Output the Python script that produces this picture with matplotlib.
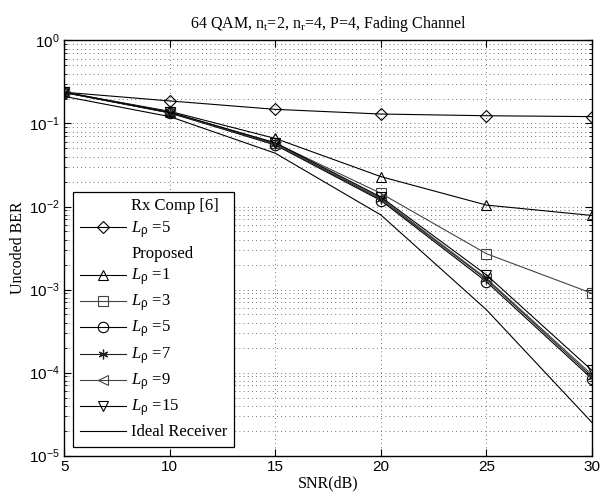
import matplotlib
matplotlib.use("Agg")
import matplotlib.pyplot as plt
from matplotlib.lines import Line2D
from matplotlib.ticker import LogLocator, NullFormatter

plt.rcParams['mathtext.fontset'] = 'custom'
plt.rcParams['mathtext.rm'] = 'Liberation Serif'
plt.rcParams['mathtext.it'] = 'Liberation Serif:italic'
plt.rcParams['mathtext.sf'] = 'Liberation Sans'

snr = [5, 10, 15, 20, 25, 30]
rx_comp_L5 = [0.238, 0.187, 0.148, 0.130, 0.124, 0.121]
prop_L1 = [0.238, 0.140, 0.066, 0.0229, 0.0104, 0.0078]
prop_L3 = [0.238, 0.137, 0.058, 0.0144, 0.0027, 0.0009]
prop_L5 = [0.236, 0.134, 0.055, 0.0118, 0.00124, 0.000084]
prop_L7 = [0.236, 0.135, 0.0565, 0.0122, 0.00132, 0.000089]
prop_L9 = [0.237, 0.135, 0.057, 0.0126, 0.00136, 0.000094]
prop_L15 = [0.238, 0.136, 0.0585, 0.0130, 0.0015, 0.000106]
ideal = [0.212, 0.121, 0.0438, 0.0079, 0.00057, 0.000025]

title = r"64 QAM, n$_\mathregular{t}$=2, n$_\mathregular{r}$=4, P=4, Fading Channel"
xlabel = "SNR(dB)"
ylabel = "Uncoded BER"

fig = plt.figure(figsize=(6.01, 4.98), dpi=100)
ax = fig.add_axes([0.107, 0.0853, 0.878, 0.8334])

serif = 'Liberation Serif'
lw = 0.8
ms = 7.5
common = dict(linewidth=lw, markersize=ms, markerfacecolor='none', markeredgewidth=0.8)

h_rx, = ax.plot(snr, rx_comp_L5, color='black', marker='D', markersize=6.5, linewidth=lw,
                markerfacecolor='none', markeredgewidth=0.8)
h1, = ax.plot(snr, prop_L1, color='black', marker='^', **common)
h3, = ax.plot(snr, prop_L3, color='#444444', marker='s', linewidth=lw, markersize=6.5,
              markerfacecolor='none', markeredgewidth=0.8)
h5, = ax.plot(snr, prop_L5, color='black', marker='o', **common)
h7, = ax.plot(snr, prop_L7, color='#222222', marker=(6, 2, 0), linewidth=lw, markersize=7,
              markerfacecolor='none', markeredgewidth=0.9)
h9, = ax.plot(snr, prop_L9, color='#444444', marker='<', **common)
h15, = ax.plot(snr, prop_L15, color='black', marker='v', **common)
hid, = ax.plot(snr, ideal, color='black', linewidth=lw)

ax.set_yscale('log')
ax.set_xlim(5, 30)
ax.set_ylim(1e-5, 1)
ax.set_xticks([5, 10, 15, 20, 25, 30])
ax.yaxis.set_major_locator(LogLocator(base=10, numticks=10))
ax.yaxis.set_minor_locator(LogLocator(base=10, subs=range(2, 10), numticks=20))
ax.yaxis.set_minor_formatter(NullFormatter())

grid_style = dict(linestyle=(0, (1, 4)), color='#444444', linewidth=0.6)
ax.grid(True, which='major', **grid_style)
ax.grid(True, which='minor', axis='y', **grid_style)
ax.set_axisbelow(True)

ax.tick_params(which='both', direction='in', top=True, right=True,
               labelsize=11, labelfontfamily='Liberation Sans')
ax.tick_params(which='major', length=5)
ax.tick_params(which='minor', length=2.5)
for s in ax.spines.values():
    s.set_linewidth(1.0)

ax.set_title(title, fontfamily=serif, fontsize=11.5, pad=9)
ax.set_xlabel(xlabel, fontfamily=serif, fontsize=11.5, labelpad=1)
ax.set_ylabel(ylabel, fontfamily=serif, fontsize=11.5, labelpad=2)

blank = Line2D([], [], linestyle='none')
handles = [blank, h_rx, blank, h1, h3, h5, h7, h9, h15, hid]
labels = ["Rx Comp [6]",
          r"$L_{\mathsf{\rho}}$ =5",
          "Proposed",
          r"$L_{\mathsf{\rho}}$ =1",
          r"$L_{\mathsf{\rho}}$ =3",
          r"$L_{\mathsf{\rho}}$ =5",
          r"$L_{\mathsf{\rho}}$ =7",
          r"$L_{\mathsf{\rho}}$ =9",
          r"$L_{\mathsf{\rho}}$ =15",
          "Ideal Receiver"]
leg = ax.legend(handles, labels, loc='lower left', bbox_to_anchor=(0.0167, 0.0205),
                borderaxespad=0, prop={'family': serif, 'size': 12},
                handlelength=2.8, handletextpad=0.3, labelspacing=0.3,
                borderpad=0.4, fancybox=False, framealpha=1, edgecolor='black')
leg.get_frame().set_linewidth(0.9)

fig.savefig("out.png", dpi=100)
